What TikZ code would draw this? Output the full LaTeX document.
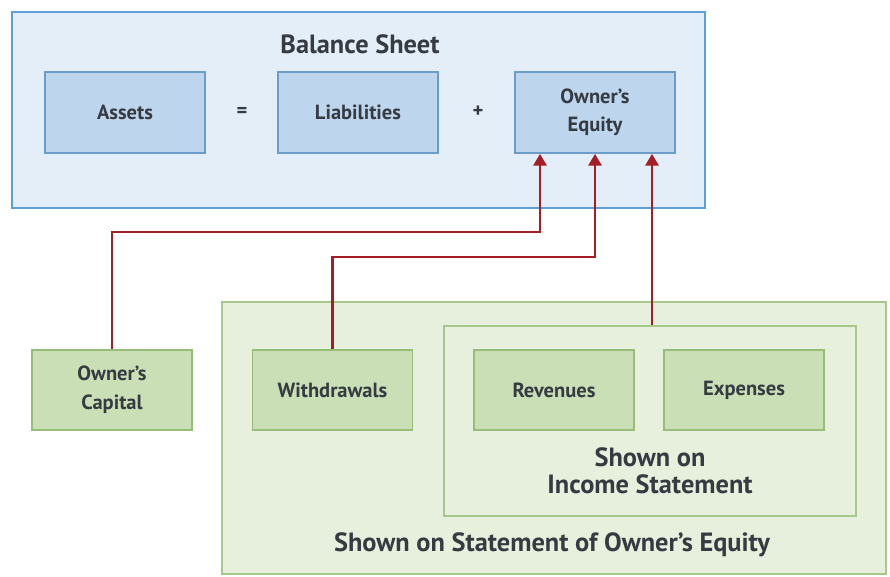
\documentclass[tikz,border=0pt]{standalone}
\usepackage{fontspec}
\setmainfont{PT Sans}
\usetikzlibrary{arrows.meta}
\definecolor{bsfill}{HTML}{E3EEF9}
\definecolor{bsline}{HTML}{5E9FD6}
\definecolor{bxfill}{HTML}{BDD6EE}
\definecolor{bxline}{HTML}{6C9CC8}
\definecolor{gnfill}{HTML}{E7F0DD}
\definecolor{gnline}{HTML}{A6C88B}
\definecolor{gxfill}{HTML}{CADFB6}
\definecolor{gxline}{HTML}{98BC79}
\definecolor{arrred}{HTML}{A51E25}
\definecolor{txt}{HTML}{363B42}
\tikzset{
  frame/.style={draw=#1,line width=1.6pt,inner sep=0pt},
  bluebox/.style={draw=bxline,fill=bxfill,line width=1.4pt,minimum width=4.8cm,minimum height=2.43cm,
    align=center,font=\bfseries\fontsize{17.5}{24}\selectfont,text=txt},
  greenbox/.style={draw=gxline,fill=gxfill,line width=1.4pt,minimum width=4.8cm,minimum height=2.4cm,
    align=center,font=\bfseries\fontsize{17.5}{25}\selectfont,text=txt},
  caption/.style={font=\bfseries\fontsize{22.5}{23}\selectfont,text=txt,align=center},
  feed/.style={arrred,line width=2.4pt,-{Triangle[length=10pt,width=11pt]}}
}
\begin{document}
\begin{tikzpicture}[x=0.03cm,y=-0.03cm]
  % pixel grid of the reference: 890 x 576, y runs downwards
  \useasboundingbox (0,0) rectangle (890,576);
  \node[frame=bsline,fill=bsfill,minimum width=20.79cm,minimum height=5.88cm] (bs) at (358.5,110) {};
  \node[caption] (bstitle) at (360,44) {Balance Sheet};
  \node[bluebox] (assets) at (125,112.5) {Assets};
  \node[bluebox] (liab) at (358,112.5) {Liabilities};
  \node[bluebox] (oe) at (595,112.5) {Owner’s\\Equity};
  \node[font=\bfseries\fontsize{17.5}{20}\selectfont,text=txt] (eq) at (242,112) {=};
  \node[font=\bfseries\fontsize{17.5}{20}\selectfont,text=txt] (plus) at (478,112) {+};
  % green side
  \node[frame=gnline,fill=gnfill,minimum width=19.92cm,minimum height=8.16cm] (soe) at (554,438) {};
  \node[frame=gnline,fill=gnfill,minimum width=12.36cm,minimum height=5.7cm] (inc) at (650,421) {};
  \node[greenbox] (cap) at (112,390) {Owner’s\\Capital};
  \node[greenbox] (wd) at (332.5,390) {Withdrawals};
  \node[greenbox] (rev) at (554,390) {Revenues};
  \node[greenbox] (exp) at (744,390) {Expenses};
  \node[caption] (inctitle) at (650,471) {Shown on\\Income Statement};
  \node[caption] (soetitle) at (552,545) {Shown on Statement of Owner’s Equity};
  % flows into equity
  \coordinate (k1) at (540,232);
  \coordinate (k2) at (595,257);
  \draw[feed] (cap.north) |- (k1) -- (k1 |- oe.south);
  \draw[feed] (wd.north) |- (k2) -- (k2 |- oe.south);
  \draw[feed] (inc.north -| 652,0) -- (oe.south -| 652,0);
\end{tikzpicture}
\end{document}
